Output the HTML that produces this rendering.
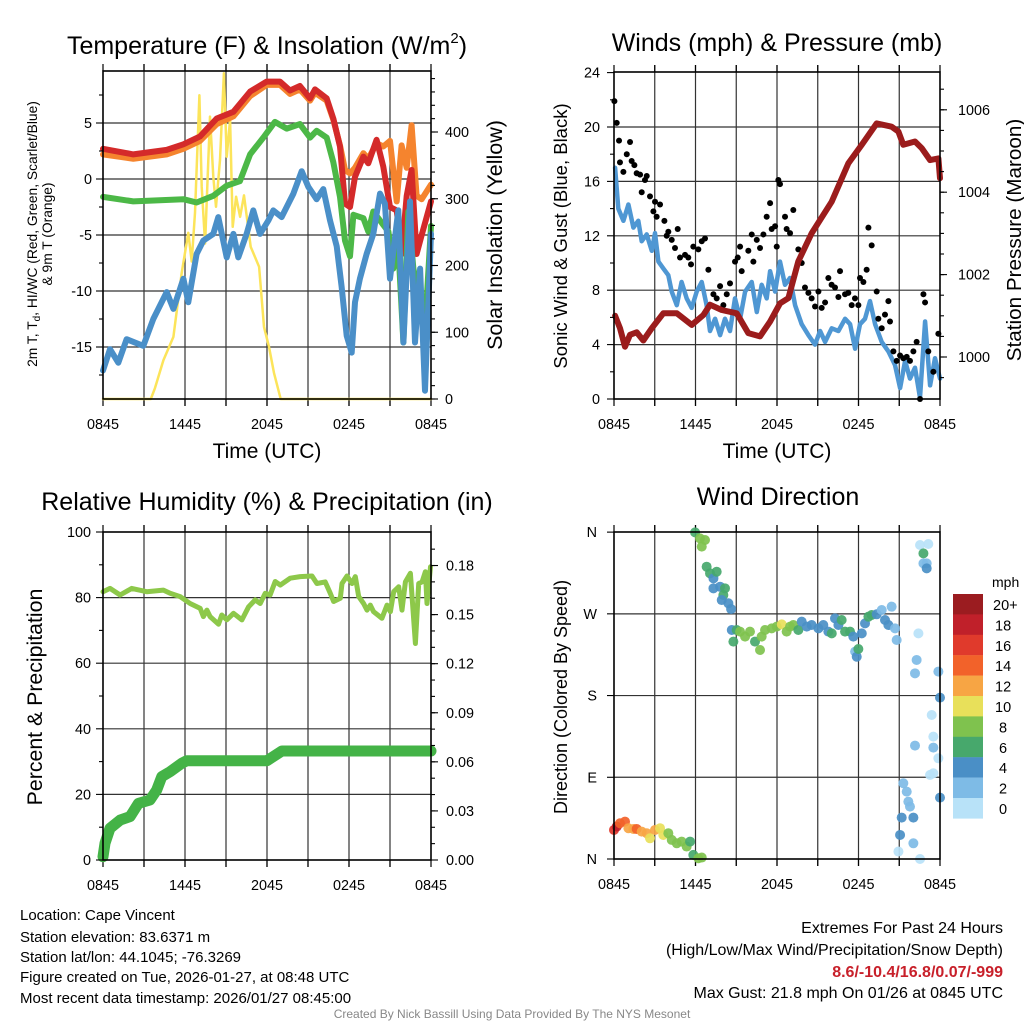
<!DOCTYPE html>
<html><head><meta charset="utf-8"><style>
html,body{margin:0;padding:0;background:#fff}
svg{display:block;font-family:"Liberation Sans",Arial,sans-serif}
</style></head><body>
<svg id="chart" width="1024" height="1024" viewBox="0 0 1024 1024" xmlns="http://www.w3.org/2000/svg">
<rect width="1024" height="1024" fill="#fff"/>
<g id="g1"></g>
<g id="g2"></g>
<g id="g3"></g>
<g id="g4"></g>
<text x="267" y="54" font-size="25" text-anchor="middle">Temperature (F) &amp; Insolation (W/m<tspan font-size="15" dy="-11">2</tspan><tspan dy="11">)</tspan></text>
<text x="777" y="51" font-size="25" text-anchor="middle">Winds (mph) &amp; Pressure (mb)</text>
<text x="267" y="510" font-size="25" text-anchor="middle">Relative Humidity (%) &amp; Precipitation (in)</text>
<text x="778" y="505" font-size="25" text-anchor="middle">Wind Direction</text>
<text x="267" y="458" font-size="21" text-anchor="middle">Time (UTC)</text>
<text x="777" y="458" font-size="21" text-anchor="middle">Time (UTC)</text>
<text font-size="13.8" text-anchor="middle" transform="translate(37,234) rotate(-90)">2m T, T<tspan font-size="10" dy="3">d</tspan><tspan dy="-3">, HI/WC (Red, Green, Scarlet/Blue)</tspan></text>
<text font-size="13.8" text-anchor="middle" transform="translate(52,234) rotate(-90)">&amp; 9m T (Orange)</text>
<text font-size="21.5" text-anchor="middle" transform="translate(502,235) rotate(-90)">Solar Insolation (Yellow)</text>
<text font-size="18.5" text-anchor="middle" transform="translate(567,236) rotate(-90)">Sonic Wind &amp; Gust (Blue, Black)</text>
<text font-size="20.7" text-anchor="middle" transform="translate(1021,240) rotate(-90)">Station Pressure (Maroon)</text>
<text font-size="21.3" text-anchor="middle" transform="translate(42,697) rotate(-90)">Percent &amp; Precipitation</text>
<text font-size="18" text-anchor="middle" transform="translate(567,697) rotate(-90)">Direction (Colored By Speed)</text>
<g font-size="15">
<text x="20" y="920">Location: Cape Vincent</text>
<text x="20" y="942">Station elevation: 83.6371 m</text>
<text x="20" y="962">Station lat/lon: 44.1045; -76.3269</text>
<text x="20" y="982">Figure created on Tue, 2026-01-27, at 08:48 UTC</text>
<text x="20" y="1003">Most recent data timestamp: 2026/01/27 08:45:00</text>
</g>
<g font-size="16" text-anchor="end">
<text x="1003" y="933">Extremes For Past 24 Hours</text>
<text x="1003" y="955">(High/Low/Max Wind/Precipitation/Snow Depth)</text>
<text x="1003" y="977" fill="#c8202a" font-weight="bold">8.6/-10.4/16.8/0.07/-999</text>
<text x="1003" y="998">Max Gust: 21.8 mph On 01/26 at 0845 UTC</text>
</g>
<text x="512" y="1018" font-size="12" fill="#888" text-anchor="middle">Created By Nick Bassill Using Data Provided By The NYS Mesonet</text>
</svg>
<script>
// ---- Temperature panel data (hours since 0845, deg F / W m-2) ----
const redH=[0,2.22,4.66,5.88,7.1,8.32,9.54,10.76,11.98,12.95,13.68,14.41,15.15,15.51,16.37,16.85,17.34,17.71,18.07,18.44,19.05,19.41,20.02,20.51,21.0,21.49,21.85,22.22,22.58,22.95,23.32,24];
const redV=[2.7,2.2,2.6,3.1,3.8,5.4,6.0,7.8,8.7,8.7,7.9,8.3,7.2,8.0,7.2,5.4,2.9,-2.2,-2.5,0.2,2.0,1.4,3.5,1.1,-2.5,-2.8,-6.7,-1.5,0.8,-6.7,-5,-2];
const orangeH=[0,2.22,4.66,5.88,7.1,8.32,9.54,10.76,11.98,12.95,13.68,14.41,15.15,15.51,16.37,16.85,17.34,17.71,18.07,18.44,19.05,19.41,20.02,20.51,21.0,21.49,21.85,22.22,22.58,22.95,23.32,24];
const orangeV=[2.2,1.8,2.2,2.7,3.4,4.9,5.6,7.4,8.4,8.4,7.6,8.0,7.0,7.7,7.0,5.3,3.0,0.8,0.5,1.0,2.3,1.8,3.2,2.9,3.4,-2.0,3.0,1.0,4.8,-1.5,-1.8,-0.5];
const greenH=[0,2.22,5.88,6.85,8.07,9.05,10.02,10.76,11.73,12.58,13.44,14.41,15.15,15.63,16.37,16.85,17.34,17.71,18.07,18.32,19.05,19.41,19.78,20.51,20.88,21.24,21.61,21.98,22.34,22.71,23.2,23.56,24];
const greenV=[-1.6,-2.0,-1.8,-2.1,-1.5,-0.6,-0.2,2.2,3.7,5.1,4.5,4.9,3.7,4.3,3.7,1.5,-1.6,-5.5,-6.9,-3.2,-3.5,-4.7,-2.9,-4.1,-4.7,-8.0,-6.1,-14.6,-2.9,-8,-11,-13.4,-4.2];
const blueH=[0,0.51,1.12,1.73,2.95,3.68,4.66,5.15,5.88,6.24,6.85,7.34,8.07,8.44,9.05,9.54,9.9,10.51,11.0,11.49,12.1,12.46,13.07,13.93,14.54,15.02,15.63,16.12,16.61,17.1,17.46,17.83,18.2,18.44,18.8,19.29,19.78,20.27,20.63,21.0,21.61,21.98,22.46,22.83,23.2,23.56,24];
const blueV=[-17.1,-15.2,-16.4,-14.3,-14.9,-12.5,-10.1,-11.6,-8.9,-11,-6.7,-5.5,-4.9,-3.4,-7.0,-4.9,-7,-4.9,-2.8,-4.9,-3.7,-2.8,-3.4,-1.3,0.7,-0.7,-1.8,-0.9,-3.7,-6,-9.6,-14,-15.5,-11,-8.9,-6.7,-4.9,-1.3,-2.2,-8.9,-2.8,-14.6,-2.0,-14.6,-8,-18.9,-4.9];
const solarH=[0,3.5,3.8,4.42,5.15,5.76,6.24,6.49,6.73,7.05,7.22,7.47,7.83,8.07,8.27,8.56,8.85,9.05,9.3,9.49,9.74,10.03,10.32,10.81,11.42,11.78,12.15,12.51,13.0,24];
const solarV=[0,0,16,58,93,189,249,206,279,455,318,233,423,333,288,358,488,363,418,258,303,273,305,228,198,108,78,39,0,0];
const tempTicks=[-15,-10,-5,0,5];
const solarTicks=[0,100,200,300,400];
const timeLabels=['0845','1445','2045','0245','0845'];
// ---- Winds panel data ----
const windH=[0.08,0.32,0.69,1.06,1.43,1.79,2.04,2.41,2.78,3.02,3.27,3.63,4.0,4.25,4.62,4.98,5.35,5.72,6.09,6.46,6.82,7.07,7.44,7.81,8.17,8.54,8.91,9.28,9.65,10.14,10.51,10.87,11.24,11.49,11.86,12.22,12.59,12.96,13.33,13.82,14.31,14.8,15.17,15.54,16.03,16.52,17.01,17.38,17.75,18.11,18.48,18.85,19.22,19.71,20.2,20.69,21.06,21.43,21.79,22.16,22.53,22.9,23.27,23.63,24.0];
const windV=[17.0,14.0,13.1,14.3,12.6,13.1,11.6,12.1,10.9,12.2,10.1,9.6,9.1,7.9,6.9,8.6,7.4,6.7,7.9,8.6,6.9,5.0,5.9,4.7,5.9,5.0,7.4,5.9,7.9,8.6,6.4,8.4,7.4,9.4,7.9,10.1,8.4,8.9,6.9,5.5,4.7,4.0,5.0,4.2,5.2,5.0,5.9,5.5,3.7,5.5,5.9,7.2,5.5,4.2,3.5,2.5,0.8,2.8,1.5,2.3,0.1,5.7,1.0,3.0,1.5];
const gustH=[0.03,0.2,0.37,0.44,0.69,0.94,1.18,1.3,1.5,1.67,1.92,2.04,2.28,2.41,2.65,2.9,3.02,3.14,3.39,3.71,3.88,4.0,4.25,4.49,4.69,4.86,5.23,5.47,5.67,5.84,6.21,6.46,6.7,6.95,7.32,7.56,7.81,8.05,8.3,8.54,8.91,9.11,9.28,9.4,9.89,10.14,10.26,10.51,10.75,11.0,11.24,11.49,11.61,11.86,11.98,12.1,12.22,12.59,12.71,12.96,13.2,13.57,13.82,14.06,14.31,14.55,14.8,15.05,15.29,15.54,15.78,16.02,16.27,16.52,16.64,17.01,17.25,17.5,17.74,17.99,18.11,18.36,18.6,18.73,18.97,19.34,19.46,19.71,19.95,20.2,20.32,20.57,20.81,21.06,21.3,21.55,21.79,22.04,22.28,22.53,22.78,22.9,23.14,23.51,23.88];
const gustV=[21.9,20.3,19.0,17.4,16.7,18.0,18.9,17.5,17.2,16.6,16.5,15.2,16.1,16.4,14.9,13.8,14.5,13.4,14.3,13.1,12.0,12.3,11.7,11.1,12.5,10.4,10.6,10.4,9.9,11.2,11.0,11.6,11.8,9.5,7.7,7.4,8.3,6.9,7.7,8.5,10.1,10.4,11.2,9.4,10.9,12.1,10.1,11.7,11.1,12.1,13.4,14.4,12.5,12.7,11.2,16.1,15.8,13.4,12.5,12.2,13.9,11.0,10.0,8.2,7.8,7.4,6.8,7.9,6.7,7.1,8.9,8.4,8.2,7.5,9.4,7.7,7.8,6.9,7.4,6.9,8.9,8.6,9.5,12.6,11.3,7.9,5.9,5.2,6.2,7.2,5.7,3.5,2.8,3.2,3.0,3.1,2.8,3.5,4.2,0,7.7,7.1,3.5,2.0,4.8];
const presH=[0.08,0.44,0.81,1.18,1.67,2.16,2.78,3.63,4.62,5.72,6.58,7.07,7.93,9.03,9.89,10.75,11.49,12.22,12.84,13.57,14.55,16.03,17.25,18.24,19.34,20.44,20.94,21.3,22.16,22.65,23.27,23.88,24];
const presV=[1001.0,1000.7,1000.25,1000.54,1000.6,1000.4,1000.7,1001.06,1001.06,1000.78,1001.02,1001.27,1001.14,1001.06,1000.58,1000.5,1000.86,1001.3,1001.43,1002.32,1003.0,1003.77,1004.7,1005.15,1005.67,1005.59,1005.47,1005.15,1005.23,1005.07,1004.78,1004.82,1004.34];
const windTicks=[0,4,8,12,16,20,24];
const presTicks=[1000,1002,1004,1006];
// ---- Humidity panel data ----
const rhH=[0,0.51,1.25,2.1,3.2,4.42,4.91,5.64,6.37,7.11,7.35,7.6,7.84,8.45,8.69,9.06,9.55,10.16,10.65,11.14,11.5,11.87,12.23,12.6,12.97,13.7,14.43,15.29,15.65,16.26,16.63,16.87,17.36,17.49,17.85,18.22,18.46,18.71,19.07,19.32,19.56,19.8,20.41,20.78,21.03,21.27,21.64,21.88,22.13,22.49,22.86,23.1,23.35,23.59,23.71,23.96];
const rhV=[81.8,82.8,80.8,82.8,81.8,82.3,81.3,80.3,78.2,76.7,74.2,76.2,74.2,71.9,74.7,73.2,75.2,73.2,77.2,79.3,78.2,81.3,80.8,84.9,83.8,85.9,86.4,86.6,84.3,84.8,81.3,78.8,79.8,84.3,86.6,84.3,86.4,80.3,78.2,76.2,77.7,75.7,73.7,77.7,75.7,81.8,83.3,76.2,84.8,87.4,66.0,84.3,84.8,87.9,78.2,89.4];
const precipH=[0,0.15,0.51,1.25,1.98,2.59,3.44,3.93,4.3,4.91,5.76,6.13,11.99,13.09,24];
const precipV=[0.002,0.0102,0.0194,0.0244,0.0265,0.0346,0.0367,0.0428,0.051,0.054,0.0591,0.0607,0.0607,0.0666,0.0666];
const rhTicks=[0,20,40,60,80,100];
const precipTicks=['0.00','0.03','0.06','0.09','0.12','0.15','0.18'];
// ---- Direction panel data ----
const dirH=[0,0.2,0.44,0.81,1.06,1.43,1.67,2.04,2.41,2.65,3.02,3.39,3.63,4.0,4.25,4.62,4.98,5.35,5.6,5.84,6.21,6.46,5.97,6.33,6.7,6.46,6.82,7.07,7.32,7.56,7.32,7.81,8.05,8.17,7.93,8.42,8.62,8.67,8.79,9.03,9.28,9.65,10.01,10.38,10.75,10.87,11.12,11.61,11.98,12.35,12.71,12.96,13.2,13.57,13.82,14.19,14.55,15.05,15.41,15.78,16.03,16.27,16.52,16.76,17.01,17.38,17.62,17.75,17.87,17.99,18.24,18.48,18.73,18.97,19.34,19.71,19.95,20.2,20.44,20.69,20.81,21.3,21.55,21.67,21.79,21.18,22.04,21.06,22.04,20.94,22.53,22.53,23.14,22.78,22.78,23.02,23.02,22.41,22.28,22.16,23.88,24.0,23.39,23.51,22.16,23.51,23.88,23.51,23.27,24.0];
const dirV=[32,35.7,39.4,41.2,33.9,33.1,33.1,30.2,28.4,22.8,32,33.9,26.5,28.4,21,17.3,19.2,13.7,19.2,4.5,0.8,1.6,359.7,353.1,351.3,344,321.9,314.6,309.1,316.4,298.1,299.9,290.7,298.1,285.2,281.6,275.3,252.2,239.4,252.2,250.4,244.9,250.4,239.4,230.2,244.9,252.2,254.0,255.9,258.4,250.4,255.9,257.7,252.2,261.4,255.9,257.7,254.0,257.7,250.4,248.5,265.0,257.7,263.2,250.4,250.4,244.9,228.4,222.8,231.3,248.5,259.5,266.9,268.7,269.5,274.2,263.2,257.7,277.9,254.0,241.2,83.4,74.2,63.2,57.7,45.6,45.6,26.5,17.3,8.2,0,345.8,346.9,336.6,325.6,325.6,320.1,248.5,219.2,204.5,206.4,177.7,158.6,134.8,124.9,122.7,110.9,94.4,92.6,67.6];
const dirS=[16,18,14,14,12,12,14,12,12,10,12,10,10,8,8,8,8,8,6,6,8,8,6,8,8,8,6,6,4,6,4,4,6,6,4,4,4,4,6,6,8,8,8,6,8,8,8,8,8,10,8,8,8,6,4,4,4,4,4,4,6,4,4,6,6,6,4,2,4,6,4,4,6,6,4,2,4,4,2,2,2,2,2,2,2,4,4,4,2,0,0,0,0,6,2,2,4,0,2,2,2,4,0,0,2,2,0,0,0,4];
const dirLabels=['N','E','S','W','N'];
const speedBins=['0','2','4','6','8','10','12','14','16','18','20+'];
const speedColors=['#b8e2f8','#7ebbe6','#4a8fc6','#47a86c','#7fc24e','#e8e05a','#f7a544','#f2622a','#e03a2c','#c0202a','#9b1c20'];

const NS='http://www.w3.org/2000/svg';
function mk(tag,attrs,parent){const e=document.createElementNS(NS,tag);for(const k in attrs)e.setAttribute(k,attrs[k]);parent.appendChild(e);return e;}
function txt(s,attrs,parent){const e=mk('text',attrs,parent);e.textContent=s;return e;}

function axisX(p){return h=>p.x0+h/24*(p.x1-p.x0);}
function panel(g,p,hGrid,mainName){
  const X=axisX(p);
  const grid=mk('g',{stroke:'#333','stroke-width':1.2},g);
  
  
  for(let h=3;h<24;h+=3){mk('line',{x1:X(h),x2:X(h),y1:p.y0-7,y2:p.y1+7},grid);}
  hGrid.forEach(y=>{mk('line',{x1:p.x0,x2:p.x1,y1:y,y2:y},grid);});
  const ticks=mk('g',{stroke:'#000','stroke-width':1.2},g);
  
  
  for(let h=0;h<=24;h+=3){mk('line',{x1:X(h),x2:X(h),y1:p.y1,y2:p.y1+7},ticks);mk('line',{x1:X(h),x2:X(h),y1:p.y0-7,y2:p.y0},ticks);}
  const labs=mk('g',{'font-size':14.4,'text-anchor':'middle'},g);
  
  
  timeLabels.forEach((s,i)=>{txt(s,{x:X(i*6),y:p.y1+30},labs);});
  return X;
}
function frame(g,p,name){
  const r=mk('rect',{x:p.x0,y:p.y0,width:p.x1-p.x0,height:p.y1-p.y0,fill:'none',stroke:'#000','stroke-width':1.6},g);
  
  
}
function yTicks(g,x,dir,vals,fy,len){vals.forEach(v=>{mk('line',{x1:x,x2:x+dir*len,y1:fy(v),y2:fy(v),stroke:'#000','stroke-width':1.1},g);});}
function path(g,xs,ys,fx,fy,attrs){let d='';for(let i=0;i<xs.length;i++){d+=(i?'L':'M')+fx(xs[i]).toFixed(1)+','+fy(ys[i]).toFixed(1);}attrs.d=d;attrs.fill='none';attrs['stroke-linejoin']='round';attrs['stroke-linecap']='round';return mk('path',attrs,g);}

// ===== Panel 1 =====
(function(){
  const g=document.getElementById('g1');
  const p={x0:103,x1:431,y0:71,y1:399};
  const yT=v=>179-v*11.2, yS=v=>399-v*0.6675;
  const X=panel(g,p,tempTicks.map(yT),'temp');
  let s=path(g,solarH,solarV,X,yS,{stroke:'#fce45a','stroke-width':2.5});
  
  
  s=path(g,orangeH,orangeV,X,yT,{stroke:'#f5842e','stroke-width':6});
  
  
  s=path(g,redH,redV,X,yT,{stroke:'#d42a2a','stroke-width':6});
  
  
  s=path(g,greenH,greenV,X,yT,{stroke:'#4cb847','stroke-width':6});
  
  
  s=path(g,blueH,blueV,X,yT,{stroke:'#4a8fc8','stroke-width':6});
  
  
  frame(g,p,'temp');
  const minorT=[];for(let v=-17.5;v<=7.5;v+=5)minorT.push(v);
  yTicks(g,p.x0,-1,tempTicks,yT,7);yTicks(g,p.x0,-1,minorT,yT,4);
  const minorS=[];for(let v=0;v<=480;v+=20)minorS.push(v);
  yTicks(g,p.x1,1,solarTicks,yS,7);yTicks(g,p.x1,1,minorS,yS,4);
  const la=mk('g',{'font-size':14.4,'text-anchor':'end'},g);
  
  
  tempTicks.forEach(v=>txt(String(v),{x:92,y:yT(v)+5},la));
  const lb=mk('g',{'font-size':14.4},g);
  
  
  solarTicks.forEach(v=>txt(String(v),{x:445,y:yS(v)+5},lb));
})();

// ===== Panel 2 =====
(function(){
  const g=document.getElementById('g2');
  const p={x0:614,x1:940,y0:72,y1:399};
  const yW=v=>399-v*13.6, yP=v=>357-(v-1000)*41.2;
  const X=panel(g,p,windTicks.slice(1,-1).map(yW),'wind');
  let s=path(g,windH,windV,X,yW,{stroke:'#4f97d3','stroke-width':4.5});
  
  
  const gg=mk('g',{fill:'#000'},g);
  
  
  gustH.forEach((h,i)=>{const c=mk('circle',{cx:X(h),cy:yW(gustV[i]),r:3},gg);
    
    });
  s=path(g,presH,presV,X,yP,{stroke:'#9b1c1c','stroke-width':6});
  
  
  frame(g,p,'wind');
  const minorW=[];for(let v=2;v<24;v+=4)minorW.push(v);
  yTicks(g,p.x0,-1,windTicks,yW,7);yTicks(g,p.x0,-1,minorW,yW,4);
  const minorP=[];for(let v=999.5;v<=1007;v+=0.5)minorP.push(v);
  yTicks(g,p.x1,1,presTicks,yP,7);yTicks(g,p.x1,1,minorP.filter(v=>yP(v)>=p.y0&&yP(v)<=p.y1),yP,4);
  const la=mk('g',{'font-size':14.4,'text-anchor':'end'},g);
  
  
  windTicks.forEach(v=>txt(String(v),{x:600,y:yW(v)+5},la));
  const lb=mk('g',{'font-size':14.4},g);
  
  
  presTicks.forEach(v=>txt(String(v),{x:958,y:yP(v)+5},lb));
})();

// ===== Panel 3 =====
(function(){
  const g=document.getElementById('g3');
  const p={x0:103,x1:431,y0:532,y1:860};
  const yR=v=>860-v*3.28, yQ=v=>860-v*1636;
  const X=panel(g,p,rhTicks.slice(1,-1).map(yR),'humidity');
  let s=path(g,rhH,rhV,X,yR,{stroke:'#8dc84a','stroke-width':5});
  
  
  s=path(g,precipH,precipV,X,yQ,{stroke:'#44b347','stroke-width':11});
  
  
  frame(g,p,'humidity');
  yTicks(g,p.x0,-1,rhTicks,yR,7);yTicks(g,p.x0,-1,[10,30,50,70,90],yR,4);
  const pv=precipTicks.map(Number);
  const minorQ=[];for(let v=0.01;v<0.2;v+=0.01)minorQ.push(v);
  yTicks(g,p.x1,1,pv,yQ,7);yTicks(g,p.x1,1,minorQ,yQ,4);
  const la=mk('g',{'font-size':14.4,'text-anchor':'end'},g);
  
  
  rhTicks.forEach(v=>txt(String(v),{x:91,y:yR(v)+5},la));
  const lb=mk('g',{'font-size':14.4},g);
  
  
  precipTicks.forEach(v=>txt(v,{x:446,y:yQ(Number(v))+5},lb));
})();

// ===== Panel 4 =====
(function(){
  const g=document.getElementById('g4');
  const p={x0:614,x1:940,y0:532,y1:859};
  const yD=v=>859-v*0.908;
  const X=panel(g,p,[90,180,270].map(yD),'direction');
  const dg=mk('g',{},g);
  
  
  dirH.forEach((h,i)=>{const c=mk('circle',{cx:X(h),cy:yD(dirV[i]),r:5,fill:speedColors[Math.min(10,Math.round(dirS[i]/2))],'fill-opacity':0.92},dg);
    
    });
  frame(g,p,'direction');
  yTicks(g,p.x0,-1,[0,90,180,270,360],yD,7);
  const la=mk('g',{'font-size':14.4,'text-anchor':'end'},g);
  
  
  dirLabels.forEach((s,i)=>txt(s,{x:597,y:yD(i*90)+5},la));
  const cb=mk('g',{},g);
  
  
  const t=txt('mph',{x:992,y:587,'font-size':14},cb);
  
  
  for(let i=0;i<11;i++){const j=10-i;const y=594+i*20.4;
    const r=mk('rect',{x:953,y:y,width:30,height:20.6,fill:speedColors[j]},cb);
    
    
    txt(speedBins[j],{x:j==10?993:(speedBins[j].length>1?995:999),y:y+16,'font-size':14.5},cb);}
})();
</script>
</body></html>
